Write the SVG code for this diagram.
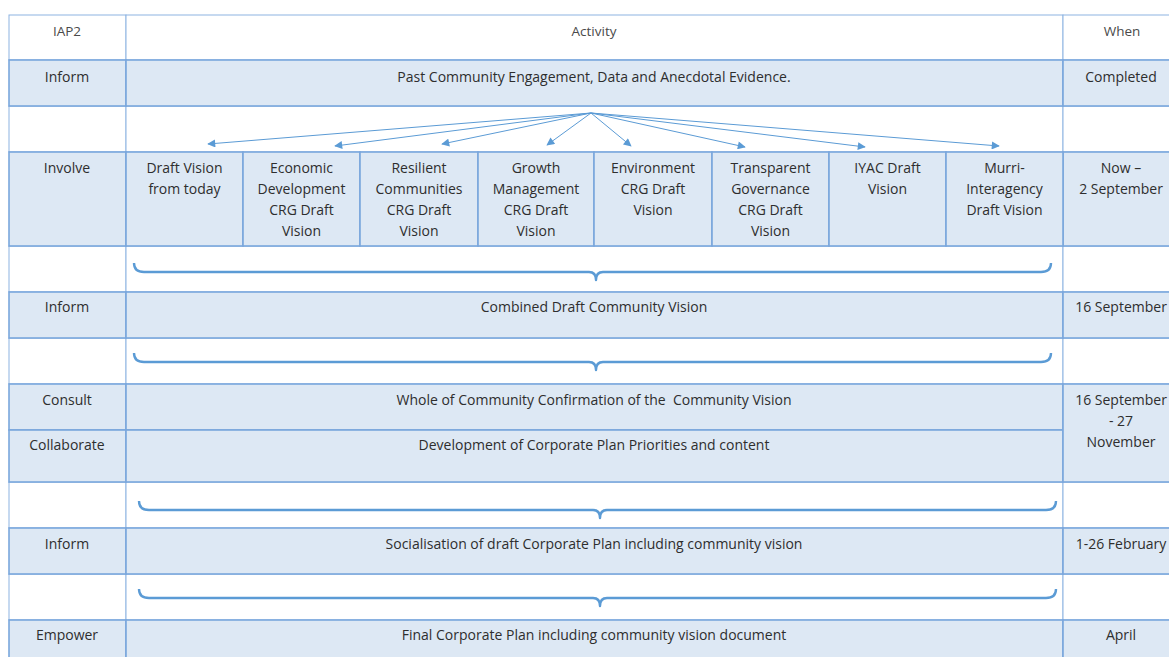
<svg xmlns="http://www.w3.org/2000/svg" width="1169" height="657" viewBox="0 0 1169 657">
<defs>
<style>
.w{fill:#ffffff;stroke:#8db4e2;stroke-width:1}
.b{fill:#dde8f4;stroke:#7aa7dc;stroke-width:1.6}
.t{font-family:"Open Sans","Noto Sans",sans-serif;font-size:14px;fill:#2e2e2e;text-anchor:middle}
.h{font-family:"Open Sans","Noto Sans",sans-serif;font-size:13.5px;fill:#4a4a4a;text-anchor:middle}
.br{fill:none;stroke:#5b9bd5;stroke-width:2.4;stroke-linejoin:round}
.ar{fill:none;stroke:#5b9bd5;stroke-width:1;marker-end:url(#ah)}
</style>
<marker id="ah" viewBox="0 0 10 10" refX="9" refY="5" markerWidth="9" markerHeight="8" markerUnits="userSpaceOnUse" orient="auto">
<path d="M0,0 L10,5 L0,10 z" fill="#5b9bd5"/>
</marker>
</defs>
<rect width="1169" height="657" fill="#ffffff"/>

<g id="header">
<rect class="w" x="9" y="15" width="117" height="45"/>
<rect class="w" x="126" y="15" width="937" height="45"/>
<rect class="w" x="1063" y="15" width="118" height="45"/>
<text class="h" x="67" y="36">IAP2</text>
<text class="h" x="594" y="36">Activity</text>
<text class="h" x="1122" y="36">When</text>
</g>

<g id="gap1">
<rect class="w" x="9" y="106" width="117" height="46"/>
<rect class="w" x="126" y="106" width="937" height="46"/>
<rect class="w" x="1063" y="106" width="118" height="46"/>
</g>
<g id="gap2">
<rect class="w" x="9" y="246" width="117" height="46"/>
<rect class="w" x="126" y="246" width="937" height="46"/>
<rect class="w" x="1063" y="246" width="118" height="46"/>
</g>
<g id="gap3">
<rect class="w" x="9" y="338" width="117" height="46"/>
<rect class="w" x="126" y="338" width="937" height="46"/>
<rect class="w" x="1063" y="338" width="118" height="46"/>
</g>
<g id="gap4">
<rect class="w" x="9" y="482" width="117" height="46"/>
<rect class="w" x="126" y="482" width="937" height="46"/>
<rect class="w" x="1063" y="482" width="118" height="46"/>
</g>
<g id="gap5">
<rect class="w" x="9" y="574" width="117" height="46"/>
<rect class="w" x="126" y="574" width="937" height="46"/>
<rect class="w" x="1063" y="574" width="118" height="46"/>
</g>

<g id="row-inform-1">
<rect class="b" x="9" y="60" width="117" height="46"/>
<rect class="b" x="126" y="60" width="937" height="46"/>
<rect class="b" x="1063" y="60" width="118" height="46"/>
<text class="t" x="67" y="82">Inform</text>
<text class="t" x="594" y="82">Past Community Engagement, Data and Anecdotal Evidence.</text>
<text class="t" x="1121" y="82">Completed</text>
</g>

<g id="row-involve">
<rect class="b" x="9" y="152" width="117" height="94"/>
<rect class="b" x="1063" y="152" width="118" height="94"/>
<text class="t" x="67" y="173">Involve</text>
<text class="t" x="1121" y="173">Now –</text>
<text class="t" x="1121" y="194">2 September</text>
</g>
<g id="draft-vision-today">
<rect class="b" x="126" y="152" width="117" height="94"/>
<text class="t" x="184.5" y="173">Draft Vision</text>
<text class="t" x="184.5" y="194">from today</text>
</g>
<g id="economic-development">
<rect class="b" x="243" y="152" width="117" height="94"/>
<text class="t" x="301.5" y="173">Economic</text>
<text class="t" x="301.5" y="194">Development</text>
<text class="t" x="301.5" y="215">CRG Draft</text>
<text class="t" x="301.5" y="236">Vision</text>
</g>
<g id="resilient-communities">
<rect class="b" x="360" y="152" width="118" height="94"/>
<text class="t" x="419" y="173">Resilient</text>
<text class="t" x="419" y="194">Communities</text>
<text class="t" x="419" y="215">CRG Draft</text>
<text class="t" x="419" y="236">Vision</text>
</g>
<g id="growth-management">
<rect class="b" x="478" y="152" width="116" height="94"/>
<text class="t" x="536" y="173">Growth</text>
<text class="t" x="536" y="194">Management</text>
<text class="t" x="536" y="215">CRG Draft</text>
<text class="t" x="536" y="236">Vision</text>
</g>
<g id="environment">
<rect class="b" x="594" y="152" width="118" height="94"/>
<text class="t" x="653" y="173">Environment</text>
<text class="t" x="653" y="194">CRG Draft</text>
<text class="t" x="653" y="215">Vision</text>
</g>
<g id="transparent-governance">
<rect class="b" x="712" y="152" width="117" height="94"/>
<text class="t" x="770.5" y="173">Transparent</text>
<text class="t" x="770.5" y="194">Governance</text>
<text class="t" x="770.5" y="215">CRG Draft</text>
<text class="t" x="770.5" y="236">Vision</text>
</g>
<g id="iyac">
<rect class="b" x="829" y="152" width="117" height="94"/>
<text class="t" x="887.5" y="173">IYAC Draft</text>
<text class="t" x="887.5" y="194">Vision</text>
</g>
<g id="murri-interagency">
<rect class="b" x="946" y="152" width="117" height="94"/>
<text class="t" x="1004.5" y="173">Murri-</text>
<text class="t" x="1004.5" y="194">Interagency</text>
<text class="t" x="1004.5" y="215">Draft Vision</text>
</g>

<g id="row-inform-2">
<rect class="b" x="9" y="292" width="117" height="46"/>
<rect class="b" x="126" y="292" width="937" height="46"/>
<rect class="b" x="1063" y="292" width="118" height="46"/>
<text class="t" x="67" y="312">Inform</text>
<text class="t" x="594" y="312">Combined Draft Community Vision</text>
<text class="t" x="1121" y="312">16 September</text>
</g>

<g id="row-consult-collaborate">
<rect class="b" x="9" y="384" width="117" height="46"/>
<rect class="b" x="126" y="384" width="937" height="46"/>
<rect class="b" x="9" y="430" width="117" height="52"/>
<rect class="b" x="126" y="430" width="937" height="52"/>
<rect class="b" x="1063" y="384" width="118" height="98"/>
<text class="t" x="67" y="405">Consult</text>
<text class="t" x="594" y="405">Whole of Community Confirmation of the &#160;Community Vision</text>
<text class="t" x="67" y="450">Collaborate</text>
<text class="t" x="594" y="450">Development of Corporate Plan Priorities and content</text>
<text class="t" x="1121" y="405">16 September</text>
<text class="t" x="1121" y="426">- 27</text>
<text class="t" x="1121" y="447">November</text>
</g>

<g id="row-inform-3">
<rect class="b" x="9" y="528" width="117" height="46"/>
<rect class="b" x="126" y="528" width="937" height="46"/>
<rect class="b" x="1063" y="528" width="118" height="46"/>
<text class="t" x="67" y="549">Inform</text>
<text class="t" x="594" y="549">Socialisation of draft Corporate Plan including community vision</text>
<text class="t" x="1121" y="549">1-26 February</text>
</g>

<g id="row-empower">
<rect class="b" x="9" y="620" width="117" height="50"/>
<rect class="b" x="126" y="620" width="937" height="50"/>
<rect class="b" x="1063" y="620" width="118" height="50"/>
<text class="t" x="67" y="640">Empower</text>
<text class="t" x="594" y="640">Final Corporate Plan including community vision document</text>
<text class="t" x="1121" y="640">April</text>
</g>

<g id="connectors">
<line class="ar" x1="591" y1="113" x2="208" y2="144"/>
<line class="ar" x1="591" y1="113" x2="335" y2="146"/>
<line class="ar" x1="591" y1="113" x2="442" y2="144"/>
<line class="ar" x1="591" y1="113" x2="547" y2="145"/>
<line class="ar" x1="591" y1="113" x2="631" y2="146"/>
<line class="ar" x1="591" y1="113" x2="745" y2="147"/>
<line class="ar" x1="591" y1="113" x2="865" y2="147"/>
<line class="ar" x1="591" y1="113" x2="999" y2="146"/>
<path class="br" d="M134,263 Q134,272 144,272 L589,272 Q596,272 596,280 Q596,272 603,272 L1041,272 Q1051,272 1051,263"/>
<path class="br" d="M134,353 Q134,362 144,362 L589,362 Q596,362 596,370 Q596,362 603,362 L1041,362 Q1051,362 1051,353"/>
<path class="br" d="M139,501 Q139,510 149,510 L593,510 Q600,510 600,518 Q600,510 607,510 L1046,510 Q1056,510 1056,501"/>
<path class="br" d="M139,589 Q139,598 149,598 L593,598 Q600,598 600,606 Q600,598 607,598 L1046,598 Q1056,598 1056,589"/>
</g>
</svg>
